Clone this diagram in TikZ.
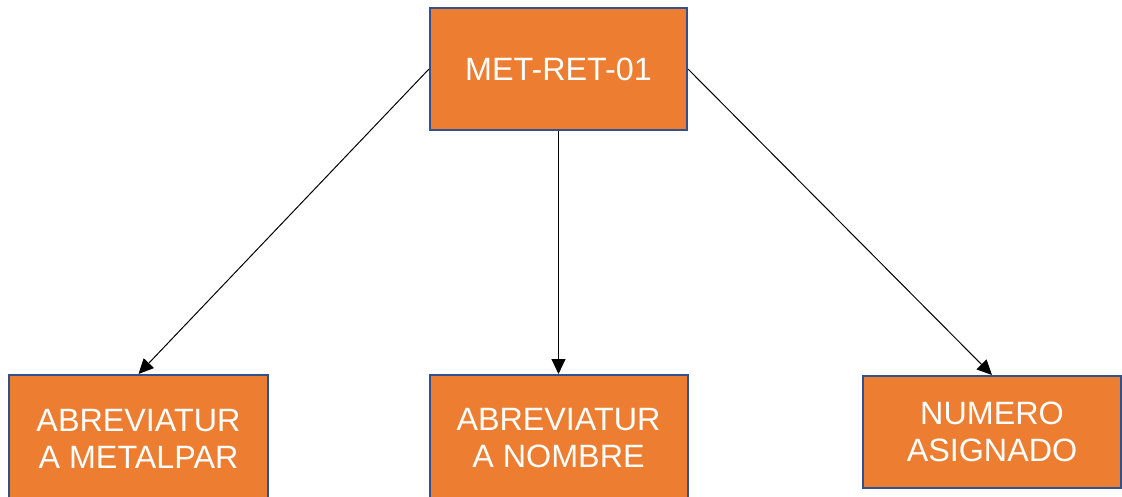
\documentclass[tikz,border=0pt]{standalone}
\usepackage{fontspec}
\setmainfont{Liberation Sans}
\usetikzlibrary{arrows.meta}
\definecolor{boxfill}{HTML}{ED7D31}
\definecolor{boxline}{HTML}{2F528F}
\begin{document}
\begin{tikzpicture}[x=1pt,y=-1pt,
  box/.style={draw=boxline, line width=2pt, fill=boxfill, text=white,
    inner sep=0pt, align=center, font=\fontsize{32.3}{37}\selectfont},
  conn/.style={line width=1pt, -{Triangle[length=15pt,width=14pt]}}]
\useasboundingbox (0,0) rectangle (1122,496);
\node[box, minimum width=257pt, minimum height=122pt] (top) at (558.5,69) {MET-RET-01};
\node[box, minimum width=259pt, minimum height=127pt] (left) at (138.5,438.5) {ABREVIATUR\\A METALPAR};
\node[box, minimum width=258pt, minimum height=127pt] (mid) at (558.5,438.5) {ABREVIATUR\\A NOMBRE};
\node[box, minimum width=258pt, minimum height=112pt] (right) at (992,432) {NUMERO\\ASIGNADO};
\draw[conn] (top.west) -- (left.north);
\draw[conn] (top.south) -- (mid.north);
\draw[conn] (top.east) -- (right.north);
\end{tikzpicture}
\end{document}
